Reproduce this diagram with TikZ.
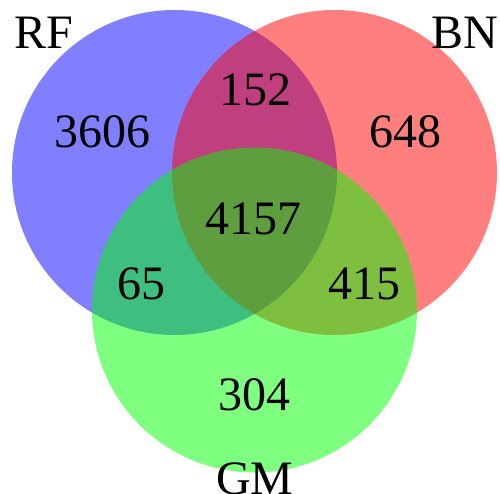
\documentclass[tikz,border=0pt]{standalone}
\usepackage{fontspec}
\setmainfont{Liberation Serif}
\usepackage{tikz}
\tikzset{
  st/.style={circle, fill=#1, fill opacity=0.5, draw=none, minimum size=325pt, inner sep=0pt},
  nb/.style={anchor=base, inner sep=0pt, font=\fontsize{48}{56}\selectfont}
}

\begin{document}
\begin{tikzpicture}[x=1pt, y=-1pt]
  \useasboundingbox (0,0) rectangle (500,494);
  % the three sets
  \node[st=blue]  (rf) at (174.5,172.5) {};
  \node[st=red]   (bn) at (334.5,172.5) {};
  \node[st=green] (gm) at (254.5,310) {};
  % set names
  \node[nb] (rflab) at (43.5,49)  {RF};
  \node[nb] (bnlab) at (464.5,49) {BN};
  \node[nb] (gmlab) at (255,494)  {GM};
  % counts
  \node[nb] (onlyrf) at (102.5,148) {3606};
  \node[nb] (onlybn) at (405.7,148) {648};
  \node[nb] (onlygm) at (254,410)   {304};
  \node[nb] (rfbn)   at (255.5,106) {152};
  \node[nb] (rfgm)   at (141.5,299) {65};
  \node[nb] (bngm)   at (364,299)   {415};
  \node[nb] (all)    at (253,235)   {4157};
\end{tikzpicture}
\end{document}
